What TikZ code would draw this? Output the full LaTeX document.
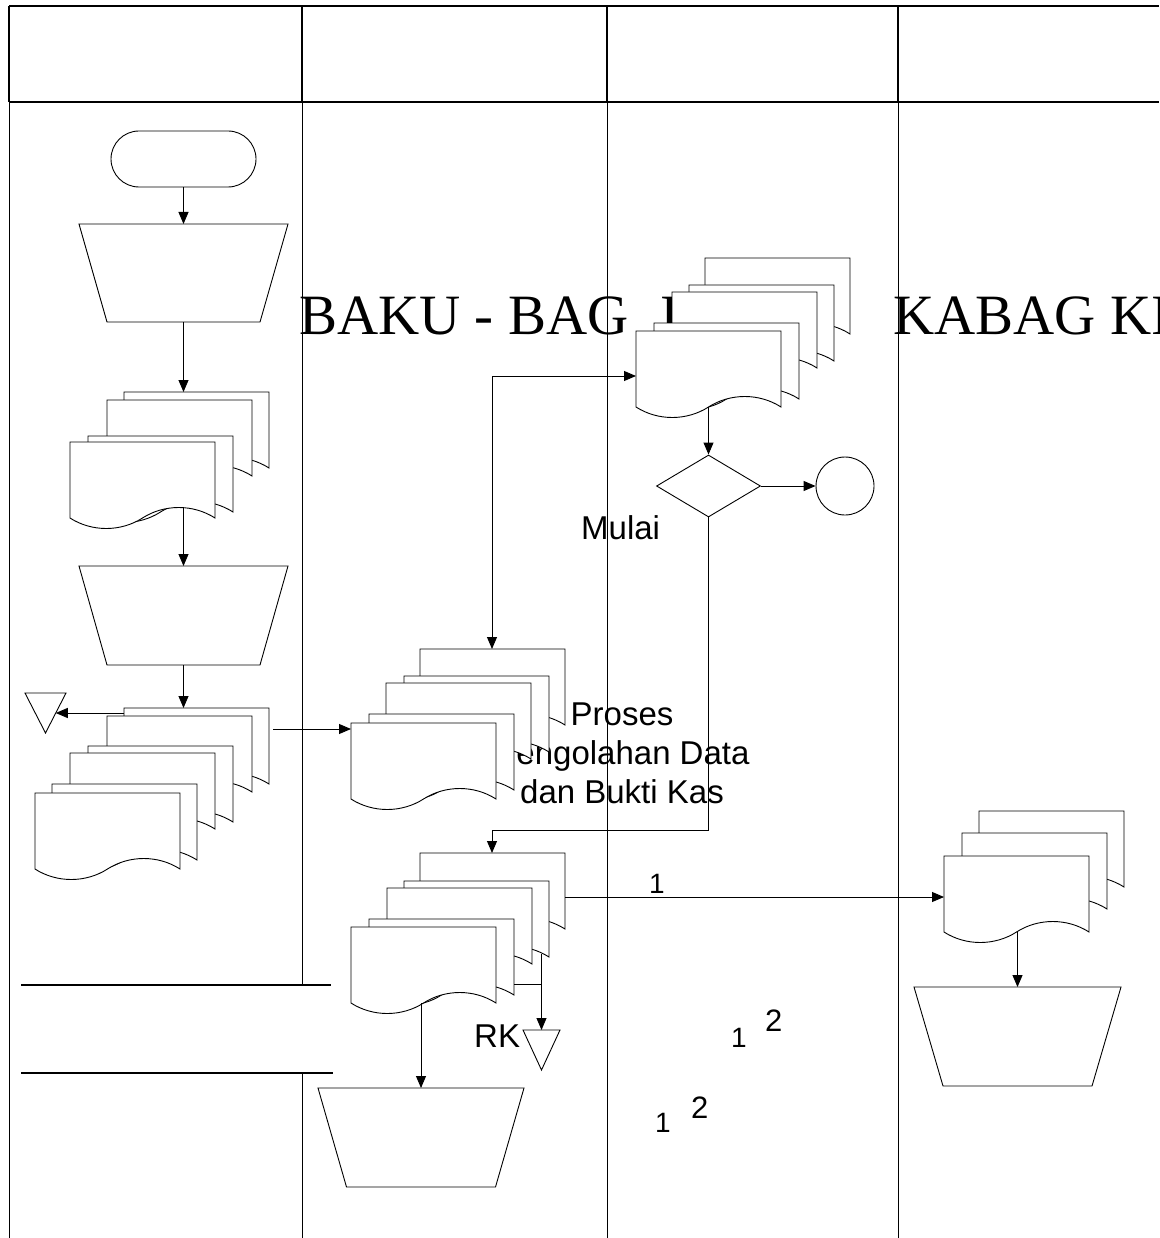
\documentclass[tikz,border=0pt]{standalone}
\usepackage{fontspec}
\newfontfamily\titlefont{Liberation Serif}
\newfontfamily\labelfont{Liberation Sans}
\usetikzlibrary{arrows.meta,shapes.geometric,calc}

\tikzset{
  page/.style={draw=black, fill=white, line width=0.9pt, line join=miter},
  lane/.style={draw=black, line width=0.9pt},
  hdrline/.style={draw=black, line width=1.5pt},
  arr/.style={draw=black, line width=0.9pt, -{Triangle[length=12pt,width=10pt]}},
  biarr/.style={draw=black, line width=0.9pt, {Triangle[length=12pt,width=10pt]}-{Triangle[length=12pt,width=10pt]}},
  wire/.style={draw=black, line width=0.9pt},
  bigtxt/.style={inner sep=0pt, font=\titlefont\fontsize{57}{60}\selectfont},
  txt/.style={inner sep=0pt, font=\labelfont\fontsize{33}{38}\selectfont},
  numtxt/.style={inner sep=0pt, font=\labelfont\fontsize{28}{32}\selectfont},
  numbig/.style={inner sep=0pt, font=\labelfont\fontsize{31}{35}\selectfont},
}

% document symbol: name, left x, top y
\newcommand{\docpage}[3]{%
  \coordinate (#1-nw) at (#2,#3);
  \coordinate (#1-ne) at (#2+145,#3);
  \coordinate (#1-mid) at (#2+72.5,#3+76);
  \coordinate (#1-crest) at (#2+108.75,#3+65.5);
  \draw[page] (#2,#3) -- (#2+145,#3) -- (#2+145,#3+76)
    .. controls (#2+123.25,#3+62) and (#2+94.25,#3+62) .. (#2+72.5,#3+76)
    .. controls (#2+50.75,#3+90) and (#2+21.75,#3+90) .. (#2,#3+76) -- cycle;
}
% manual operation: name, centre x, top y, top width, bottom width, height
\newcommand{\manualop}[6]{%
  \coordinate (#1-t) at (#2,#3);
  \coordinate (#1-b) at (#2,#3+#6);
  \draw[page] (#2-#4/2,#3) -- (#2+#4/2,#3) -- (#2+#5/2,#3+#6) -- (#2-#5/2,#3+#6) -- cycle;
}
% offline storage triangle: name, centre x, top y, width, height
\newcommand{\storetri}[5]{%
  \coordinate (#1-t) at (#2,#3);
  \coordinate (#1-e) at (#2+#4/4,#3+#5/2);
  \draw[page] (#2-#4/2,#3) -- (#2+#4/2,#3) -- (#2,#3+#5) -- cycle;
}

\begin{document}
\begin{tikzpicture}[x=1pt,y=-1pt]
\useasboundingbox (0,0) rectangle (1159,1238);
\fill[white] (0,0) rectangle (1159,1238);

% overflowing lane titles
\node[bigtxt, anchor=base west] (title-a) at (299,334) {BAKU - BAG};
\node[bigtxt, anchor=base west] (title-b) at (660,334) {I};
\node[bigtxt, anchor=base west] (title-c) at (893,334) {KABAG KI};

% loose labels
\node[txt, anchor=base] (proc-1) at (622,725) {Proses};
\node[txt, anchor=base] (proc-2) at (622,764) {Pengolahan Data};
\node[txt, anchor=base] (proc-3) at (622,803) {dan Bukti Kas};
\node[txt, anchor=base west] (mulai) at (581,539) {Mulai};
\node[txt, anchor=base west] (rk) at (474,1047) {RK};
\node[numtxt, anchor=base west] (n1) at (649,893) {1};
\node[numtxt, anchor=base west] (n1a) at (731,1047) {1};
\node[numbig, anchor=base west] (n2a) at (765,1031) {2};
\node[numtxt, anchor=base west] (n1b) at (655,1132) {1};
\node[numbig, anchor=base west] (n2b) at (691,1118) {2};

% swimlane frame
\draw[hdrline] (9,6) -- (1159,6);
\draw[hdrline] (9,102) -- (1159,102);
\draw[hdrline] (9,6) -- (9,102);
\draw[hdrline] (302,6) -- (302,102);
\draw[hdrline] (607,6) -- (607,102);
\draw[hdrline] (898,6) -- (898,102);
\draw[lane] (9,102) -- (9,1238);
\draw[lane] (302,102) -- (302,984);
\draw[lane] (302,1073) -- (302,1238);
\draw[lane] (607,102) -- (607,1238);
\draw[lane] (898,102) -- (898,1238);
\draw[draw=black, line width=1.2pt] (21,985) -- (331,985);
\draw[draw=black, line width=2.6pt] (21,1073) -- (333,1073);

% first lane
\node[page, rounded corners=28pt, minimum width=145pt, minimum height=56pt, inner sep=0pt] (start) at (183.5,159) {};
\manualop{t1}{183.5}{224}{209}{153}{98}
\docpage{s1a}{124}{392}
\docpage{s1b}{107}{400}
\docpage{s1c}{88}{436}
\docpage{s1d}{70}{442}
\manualop{t2}{183.5}{566}{209}{153}{99}
\docpage{s2a}{124}{708}
\docpage{s2b}{107}{716}
\docpage{s2c}{88}{746}
\docpage{s2d}{70}{753}
\docpage{s2e}{52}{784}
\docpage{s2f}{35}{793}
\storetri{tri1}{45.5}{693}{41}{40}
\coordinate (feed) at (273,729);

% second lane
\docpage{s3a}{420}{649}
\docpage{s3b}{404}{676}
\docpage{s3c}{386}{683}
\docpage{s3d}{369}{714}
\docpage{s3e}{351}{723}
\docpage{s5a}{420}{853}
\docpage{s5b}{404}{881}
\docpage{s5c}{387}{888}
\docpage{s5d}{369}{919}
\docpage{s5e}{351}{927}
\storetri{tri2}{541.5}{1030}{37}{40}
\manualop{t3}{421}{1088}{206}{149}{99}
\coordinate (rk-src) at (541.5,954);
\coordinate (rk-join) at (541.5,984);

% third lane
\docpage{s4a}{705}{258}
\docpage{s4b}{689}{285}
\docpage{s4c}{672}{292}
\docpage{s4d}{654}{323}
\docpage{s4e}{636}{331}
\node[page, diamond, minimum width=104pt, minimum height=62pt, inner sep=0pt] (dec) at (708.5,486) {};
\node[page, circle, minimum size=58pt, inner sep=0pt] (conn) at (845,486) {};

% fourth lane
\docpage{s6a}{979}{811}
\docpage{s6b}{962}{833}
\docpage{s6c}{944}{856}
\manualop{t4}{1017.5}{987}{207}{149}{99}

% connectors
\draw[arr] (start.south) -- (t1-t);
\draw[arr] (t1-b) -- (t1-b |- s1a-nw);
\draw[arr] (t2-t |- s1d-crest) -- (t2-t);
\draw[arr] (t2-b) -- (t2-b |- s2a-nw);
\draw[arr] (tri1-e -| s2a-nw) -- (tri1-e);
\draw[arr] (feed) -- (feed -| s3e-nw);
\draw[biarr] ($(s4e-nw)+(0,45)$) -| ($(s3a-nw)+(72,0)$);
\draw[arr] (s4e-mid) -- (dec.north);
\draw[arr] (dec.east) -- (conn.west);
\draw[arr] (dec.south) |- ($(s5a-nw)+(72,-23)$) -- ($(s5a-nw)+(72,0)$);
\draw[arr] ($(s5a-ne)+(0,44)$) -- ($(s6c-nw)+(0,41)$);
\draw[arr] (rk-src) -- (tri2-t);
\draw[wire] (rk-join -| s5d-ne) -- (rk-join);
\draw[arr] (t3-t |- s5e-mid) -- (t3-t);
\draw[arr] (t4-t |- s6c-mid) -- (t4-t);
\end{tikzpicture}
\end{document}
